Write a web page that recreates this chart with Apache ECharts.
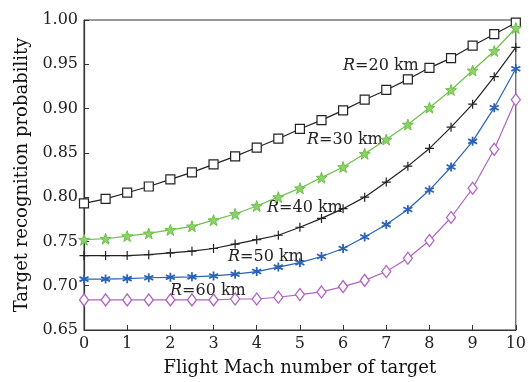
<!DOCTYPE html>
<html>
<head>
<meta charset="utf-8">
<script src="https://cdn.jsdelivr.net/npm/echarts@6/dist/echarts.min.js"></script>
<style>
  html, body { margin: 0; padding: 0; background: #fff; }
  #chart { width: 529px; height: 382px; }
</style>
</head>
<body>
<div id="chart"></div>
<script>
// Mach numbers (x), 0..10 every 0.5
const mach = [0, 0.5, 1, 1.5, 2, 2.5, 3, 3.5, 4, 4.5, 5, 5.5, 6, 6.5, 7, 7.5, 8, 8.5, 9, 9.5, 10];

const r20 = [0.793, 0.798, 0.805, 0.812, 0.820, 0.828, 0.837, 0.846, 0.856, 0.866, 0.877, 0.887, 0.898, 0.910, 0.921, 0.933, 0.946, 0.957, 0.971, 0.984, 0.997];
const r30 = [0.752, 0.753, 0.756, 0.759, 0.763, 0.767, 0.774, 0.781, 0.790, 0.800, 0.810, 0.822, 0.834, 0.849, 0.865, 0.882, 0.901, 0.921, 0.943, 0.965, 0.991];
const r40 = [0.734, 0.734, 0.734, 0.735, 0.737, 0.739, 0.742, 0.747, 0.752, 0.757, 0.766, 0.776, 0.787, 0.800, 0.817, 0.835, 0.855, 0.879, 0.905, 0.936, 0.969];
const r50 = [0.7075, 0.7075, 0.708, 0.709, 0.7095, 0.710, 0.711, 0.713, 0.716, 0.721, 0.726, 0.733, 0.742, 0.755, 0.769, 0.786, 0.808, 0.834, 0.863, 0.901, 0.945];
const r60 = [0.684, 0.684, 0.684, 0.684, 0.684, 0.684, 0.684, 0.685, 0.685, 0.687, 0.690, 0.693, 0.699, 0.706, 0.716, 0.731, 0.751, 0.777, 0.810, 0.854, 0.910];

const labels = ['20', '30', '40', '50', '60'];

const font = "'DejaVu Serif', 'Liberation Serif', serif";
const starPath = 'path://M0,-10 L2.35,-3.24 L9.51,-3.09 L3.8,1.24 L5.88,8.09 L0,4 L-5.88,8.09 L-3.8,1.24 L-9.51,-3.09 L-2.35,-3.24 Z';
const plusPath = 'path://M0,-5 L0,5 M-5,0 L5,0';
const asteriskPath = 'path://M0,-5 L0,5 M-4.33,-2.5 L4.33,2.5 M-4.33,2.5 L4.33,-2.5';

function pairs(ys) {
  return mach.map((x, i) => [x, ys[i]]);
}

function makeSeries(name, ys, color, symbol, size, fill, bw) {
  return {
    name: name,
    type: 'line',
    data: pairs(ys),
    symbol: symbol,
    symbolSize: size,
    showAllSymbol: true,
    lineStyle: { color: color, width: 1.2 },
    itemStyle: { color: fill, borderColor: color, borderWidth: bw },
    emphasis: { disabled: true },
    z: 3,
  };
}

const chart = echarts.init(document.getElementById('chart'));

function curveLabel(txt, x, y) {
  return {
    type: 'text',
    x: x,
    y: y,
    style: {
      text: '{i|R}=' + txt + ' km',
      fontFamily: font,
      fontSize: 16,
      fill: '#222',
      verticalAlign: 'middle',
      rich: {
        i: { fontStyle: 'italic', fontFamily: font, fontSize: 16, fill: '#222' },
      },
    },
  };
}

chart.setOption({
  animation: false,
  grid: {
    left: 84, right: 11, top: 20, bottom: 49,
    show: true, borderColor: '#333', borderWidth: 1,
  },
  xAxis: {
    type: 'value',
    min: 0, max: 10, interval: 1,
    name: 'Flight Mach number of target',
    nameLocation: 'middle',
    nameGap: 29,
    nameTextStyle: { fontFamily: font, fontSize: 18, color: '#111' },
    axisLine: { lineStyle: { color: '#333', width: 1.2 } },
    axisTick: { inside: true, length: 5, lineStyle: { color: '#333' } },
    axisLabel: { fontFamily: font, fontSize: 16, color: '#222', margin: 6 },
    splitLine: { show: false },
  },
  yAxis: {
    type: 'value',
    min: 0.65, max: 1.0, interval: 0.05,
    name: 'Target recognition probability',
    nameLocation: 'middle',
    nameGap: 52,
    nameTextStyle: { fontFamily: font, fontSize: 18, color: '#111' },
    axisLine: { show: true, lineStyle: { color: '#333', width: 1.2 } },
    axisTick: { inside: true, length: 5, lineStyle: { color: '#333' } },
    axisLabel: {
      fontFamily: font, fontSize: 16, color: '#222', margin: 6,
      formatter: (v) => v.toFixed(2),
    },
    splitLine: { show: false },
  },
  series: [
    makeSeries('R=20 km', r20, '#222', 'rect', 9, '#fff', 1.2),
    makeSeries('R=30 km', r30, '#6cc04a', starPath, 11, '#8fd06b', 1),
    makeSeries('R=40 km', r40, '#222', plusPath, 9, '#222', 1.2),
    makeSeries('R=50 km', r50, '#2b62b5', asteriskPath, 9, '#2b62b5', 1.8),
    makeSeries('R=60 km', r60, '#b163c2', 'diamond', [9, 12], '#fff', 1.3),
  ],
  graphic: [
    curveLabel(labels[0], 343, 66),
    curveLabel(labels[1], 307, 140),
    curveLabel(labels[2], 267, 208),
    curveLabel(labels[3], 228, 257),
    curveLabel(labels[4], 170, 291),
  ],
});
</script>
</body>
</html>
